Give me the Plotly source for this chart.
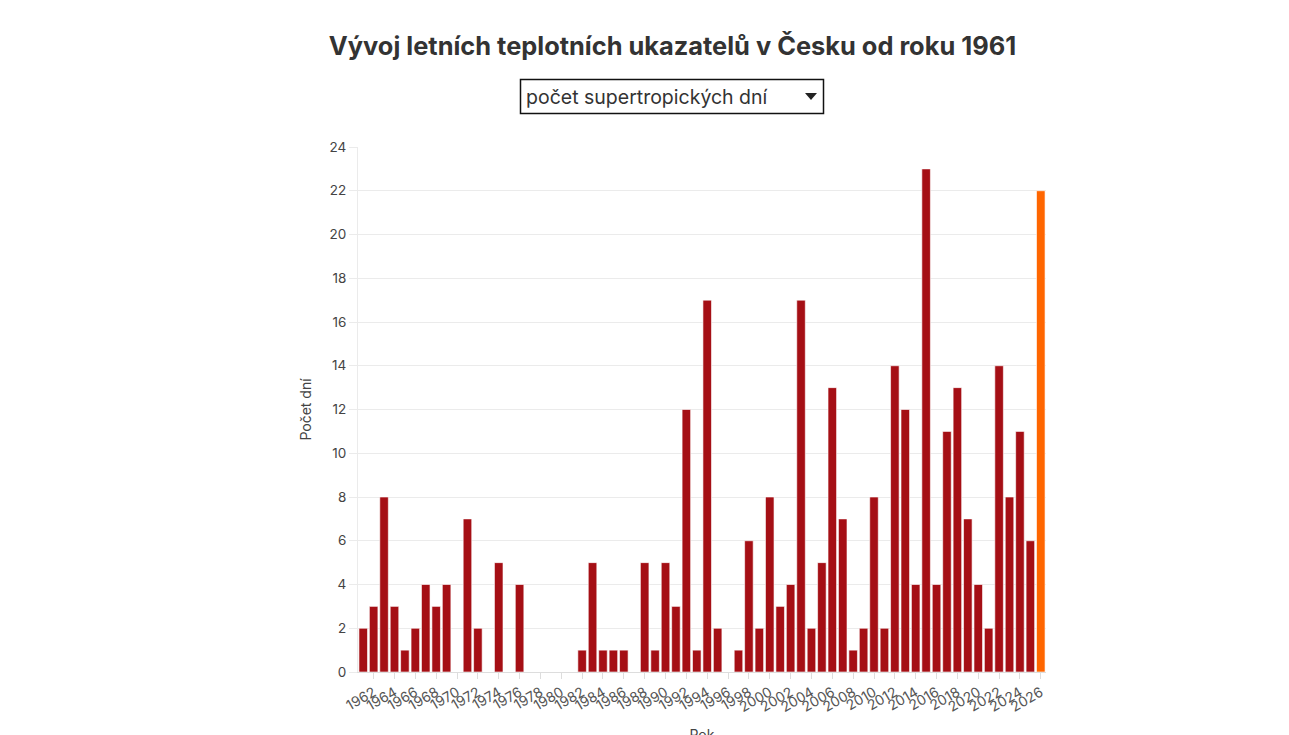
# Vývoj letních teplotních ukazatelů v Česku – počet supertropických dní
import plotly.graph_objects as go

years = list(range(1961, 2027))
supertropicke_dny = [
    2, 3, 8, 3, 1, 2, 4, 3, 4, 0,      # 1961-1970
    7, 2, 0, 5, 0, 4, 0, 0, 0, 0,      # 1971-1980
    0, 1, 5, 1, 1, 1, 0, 5, 1, 5,      # 1981-1990
    3, 12, 1, 17, 2, 0, 1, 6, 2, 8,    # 1991-2000
    3, 4, 17, 2, 5, 13, 7, 1, 2, 8,    # 2001-2010
    2, 14, 12, 4, 23, 4, 11, 13, 7, 4, # 2011-2020
    2, 14, 8, 11, 6, 22,               # 2021-2026
]
current_year = 2026
dropdown_label = "počet supertropických dní"

# page body adds an 8px offset, so target pixel positions are shifted back by OFF
W, H = 1289, 735
OFF = 8
L, T = 358 - OFF, 147 - OFF
R = W - (1046 - OFF)
B = H - (672 - OFF)

def px(x):
    return (x - OFF - L) / (W - L - R)

def py(y):
    return (H - B - (y - OFF)) / (H - T - B)

bar_colors = ['#ff6600' if y == current_year else '#a50f15' for y in years]

fig = go.Figure(go.Bar(
    x=years,
    y=supertropicke_dny,
    marker=dict(color=bar_colors, line=dict(color='rgba(255,255,255,0.6)', width=1)),
    hovertemplate='%{x}: %{y}<extra></extra>',
))

fig.update_layout(
    width=W, height=H,
    margin=dict(l=L, r=R, t=T, b=B),
    paper_bgcolor='white',
    plot_bgcolor='white',
    font=dict(family='Inter, Roboto, sans-serif', size=13, color='#444'),
    bargap=0.18,
    showlegend=False,
    title=dict(
        text='<b>Vývoj letních teplotních ukazatelů v Česku od roku 1961</b>',
        x=(672.5 - OFF) / W, xref='container', xanchor='center',
        y=1 - (46 - OFF) / H, yref='container', yanchor='middle',
        font=dict(family='Inter, Roboto, sans-serif', size=25.4, color='#333'),
    ),
    xaxis=dict(
        range=[1960.5, 2026.5],
        tick0=1962, dtick=2,
        tickangle=-30,
        ticks='outside', ticklen=6, tickcolor='#ddd',
        showline=True, linecolor='#ddd',
        showgrid=False,
        automargin=False,
        tickfont=dict(size=14, color='#555'),
        title=dict(text='Rok', font=dict(size=14, color='#444'), standoff=30),
    ),
    yaxis=dict(
        range=[0, 24],
        dtick=2,
        gridcolor='#ebebeb',
        showline=True, linecolor='#ebebeb',
        ticks='outside', ticklen=8, tickcolor='#ebebeb',
        zeroline=False,
        automargin=False,
        tickfont=dict(size=13.5, color='#444'),
        title=dict(text='Počet dní', font=dict(size=14, color='#444'), standoff=14),
    ),
    shapes=[
        # select box
        dict(type='rect', xref='paper', yref='paper',
             x0=px(520.5), x1=px(823.5), y0=py(113.5), y1=py(79.5),
             line=dict(color='#111', width=1.5), fillcolor='white'),
        # dropdown arrow
        dict(type='path', xref='paper', yref='paper',
             path=f'M {px(805)} {py(93)} L {px(817)} {py(93)} L {px(811)} {py(100)} Z',
             fillcolor='#222', line=dict(width=0)),
    ],
    annotations=[
        dict(text=dropdown_label, xref='paper', yref='paper',
             x=px(524), y=py(97), xanchor='left', yanchor='middle',
             showarrow=False, font=dict(size=19.5, color='#333')),
    ],
)

fig.write_html("out.html")
